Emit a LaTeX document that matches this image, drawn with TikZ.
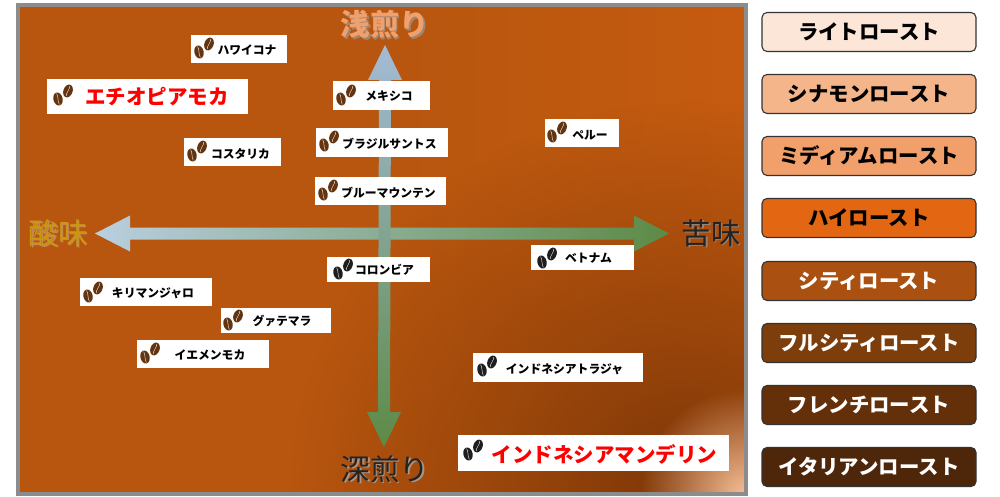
\documentclass[tikz,border=0pt]{standalone}
\usepackage{xcolor}
\usepackage{fontspec}
\setmainfont{Noto Sans CJK JP}
\usetikzlibrary{calc,fadings}

\definecolor{beanbrown}{HTML}{63340F}
\definecolor{beanblack}{HTML}{1E1E1E}
\definecolor{bgedge}{HTML}{B8560F}
\definecolor{bgmid}{HTML}{C55B10}
\definecolor{bgdark}{HTML}{7C3607}
\definecolor{bgglow}{HTML}{F5BE96}
\definecolor{frame}{HTML}{8C8C8C}
\definecolor{axisblue}{HTML}{A3BBD6}
\definecolor{axisice}{HTML}{B9CFE0}
\definecolor{axisgreen}{HTML}{5D8A46}
\definecolor{lightfg}{HTML}{EFA06C}
\definecolor{lightbg}{HTML}{A08672}
\definecolor{darkfg}{HTML}{232323}
\definecolor{darkbg}{HTML}{AA9687}
\definecolor{acidfg}{HTML}{CD960F}
\definecolor{acidbg}{HTML}{BE8C5A}
\definecolor{bitterbg}{HTML}{968273}
\definecolor{roastA}{HTML}{FCE6D8}
\definecolor{roastB}{HTML}{F5B58A}
\definecolor{roastC}{HTML}{F2A06B}
\definecolor{roastD}{HTML}{E36712}
\definecolor{roastE}{HTML}{AA5010}
\definecolor{roastF}{HTML}{7D3E0C}
\definecolor{roastG}{HTML}{64300A}
\definecolor{roastH}{HTML}{4E260A}
\tikzfading[name=glowfade,inner color=transparent!0,outer color=transparent!100]

\newcommand{\shadowed}[3]{\makebox[0pt][l]{\hspace{1.5pt}\raisebox{-1.5pt}{\textcolor{#2}{#3}}}\textcolor{#1}{#3}}

\tikzset{
  tag/.style = {fill=white,draw=none,inner sep=0pt},
  small/.style = {inner sep=0pt,font=\bfseries\fontsize{11.8}{12}\selectfont},
  big/.style = {inner sep=0pt,text=red,font=\bfseries\fontsize{20.5}{22}\selectfont},
  heading/.style = {inner sep=0pt,font=\fontsize{29.5}{31}\selectfont},
  roast/.style = {draw=black!80,line width=1.1pt,rounded corners=5pt,minimum width=214pt,minimum height=39pt,inner sep=0pt,font=\bfseries\fontsize{20.4}{22}\selectfont},
  pics/beans/.style = {code={
    \fill[#1,rotate around={14:(0,0)}] (0,0) ellipse (4.6 and 6.6);
    \draw[white,line width=0.4pt,rotate around={14:(0,0)}] (0,-5.5) .. controls (1.2,-2) and (-1.2,2) .. (0,5.5);
    \fill[#1,rotate around={-20:(10,-8)}] (10,-8) ellipse (4.6 and 6.6);
    \draw[white,line width=0.4pt,rotate around={-20:(10,-8)}] (10,-13.5) .. controls (11.2,-10) and (8.8,-6) .. (10,-2.5);
  }}
}

\begin{document}
\begin{tikzpicture}[x=1pt,y=-1pt]
  \useasboundingbox (0,0) rectangle (1000,497);

  % background
  \begin{scope}
    \clip (18,5) rectangle (746,494);
    \shade[left color=bgedge,middle color=bgmid,right color=bgedge] (18,5) rectangle (408,494);
    \shade[left color=bgedge,right color=bgmid] (408,5) rectangle (746,494);
    \fill[bgdark,path fading=glowfade] (690,500) circle (400);
    \fill[bgglow,path fading=glowfade] (745,494) circle (105);
  \end{scope}
  \draw[frame,line width=4pt] (18,5) rectangle (746,494);

  % axes
  \node[heading,font=\bfseries\fontsize{29.5}{31}\selectfont] (light) at (385,25) {\shadowed{lightfg}{lightbg}{浅煎り}};
  \node[heading] (dark) at (385,470) {\shadowed{darkfg}{darkbg}{深煎り}};
  \node[heading] (acid) at (58,234) {\shadowed{acidfg}{acidbg}{酸味}};
  \node[heading] (bitter) at (711,234) {\shadowed{darkfg}{bitterbg}{苦味}};

  \coordinate (lighttip) at (385,45);
  \coordinate (darktip) at (384,447);
  \coordinate (acidtip) at (95,233.5);
  \coordinate (bittertip) at (669,233.5);

  \shade[left color=axisice,right color=axisgreen] (acidtip) -- ++(35,-18) -- ++(0,12) -- ($(bittertip)+(-35,-6)$) -- ++(0,-12) -- (bittertip) -- ++(-35,18) -- ++(0,-12) -- ($(acidtip)+(35,6)$) -- ++(0,12) -- cycle;
  \shade[top color=axisblue,bottom color=axisgreen] (lighttip) -- ++(17,35) -- ++(-11,0) -- ($(darktip)+(6,-35)$) -- ++(11,0) -- (darktip) -- ++(-17,-35) -- ++(11,0) -- ($(lighttip)+(-6,35)$) -- ++(-11,0) -- cycle;

  % beans
  \node[tag,minimum width=96pt,minimum height=28pt] (hawaii) at (239,49) {};
  \node[small] (hawaiitext) at (247,50) {ハワイコナ};
  \pic at (199,52) {beans=beanbrown};

  \node[tag,minimum width=201pt,minimum height=35pt] (ethiopia) at (147.5,96.5) {};
  \node[big] (ethiopiatext) at (157,97) {エチオピアモカ};
  \pic at (58,99) {beans=beanbrown};

  \node[tag,minimum width=97pt,minimum height=28pt] (costa) at (232.5,152) {};
  \node[small] (costatext) at (240.5,154) {コスタリカ};
  \pic at (192,155) {beans=beanbrown};

  \node[tag,minimum width=97pt,minimum height=29pt] (mexico) at (381.5,95.5) {};
  \node[small] (mexicotext) at (389,96) {メキシコ};
  \pic at (341,99) {beans=beanbrown};

  \node[tag,minimum width=132pt,minimum height=29pt] (brazil) at (382,142.5) {};
  \node[small] (braziltext) at (389.5,144) {ブラジルサントス};
  \pic at (324,145) {beans=beanbrown};

  \node[tag,minimum width=131pt,minimum height=28pt] (blue) at (380.5,191) {};
  \node[small] (bluetext) at (388.5,193) {ブルーマウンテン};
  \pic at (323,194) {beans=beanbrown};

  \node[tag,minimum width=74pt,minimum height=28pt] (peru) at (582,133) {};
  \node[small] (perutext) at (590,135) {ペルー};
  \pic at (552,136) {beans=beanbrown};

  \node[tag,minimum width=103pt,minimum height=25pt] (vietnam) at (582.5,257.5) {};
  \node[small] (vietnamtext) at (588.5,258) {ベトナム};
  \pic at (542,262) {beans=beanblack};

  \node[tag,minimum width=103pt,minimum height=25pt] (colombia) at (378.5,269.5) {};
  \node[small] (colombiatext) at (384.5,270) {コロンビア};
  \pic at (338,273) {beans=beanblack};

  \node[tag,minimum width=132pt,minimum height=28pt] (kilimanjaro) at (146,292) {};
  \node[small] (kilimanjarotext) at (153,293) {キリマンジャロ};
  \pic at (88,296) {beans=beanbrown};

  \node[tag,minimum width=110pt,minimum height=25pt] (guatemala) at (276,320.5) {};
  \node[small] (guatemalatext) at (282,321) {グァテマラ};
  \pic at (228,324) {beans=beanbrown};

  \node[tag,minimum width=132pt,minimum height=28pt] (yemen) at (203,354) {};
  \node[small] (yementext) at (210,355) {イエメンモカ};
  \pic at (145,357) {beans=beanbrown};

  \node[tag,minimum width=170pt,minimum height=29pt] (toraja) at (558,367.5) {};
  \node[small] (torajatext) at (564.5,369) {インドネシアトラジャ};
  \pic at (482,370) {beans=beanblack};

  \node[tag,minimum width=271pt,minimum height=36pt] (mandheling) at (593.5,453) {};
  \node[big] (mandhelingtext) at (604.5,454) {インドネシアマンデリン};
  \pic at (468,454) {beans=beanblack};

  % roast levels
  \node[roast,fill=roastA,text=black] (r1) at (869,32) {ライトロースト};
  \node[roast,fill=roastB,text=black] (r2) at (869,94) {シナモンロースト};
  \node[roast,fill=roastC,text=black] (r3) at (869,156) {ミディアムロースト};
  \node[roast,fill=roastD,text=black] (r4) at (869,218) {ハイロースト};
  \node[roast,fill=roastE,text=white] (r5) at (869,281) {シティロースト};
  \node[roast,fill=roastF,text=white] (r6) at (869,343) {フルシティロースト};
  \node[roast,fill=roastG,text=white] (r7) at (869,405) {フレンチロースト};
  \node[roast,fill=roastH,text=white] (r8) at (869,467) {イタリアンロースト};
\end{tikzpicture}
\end{document}
